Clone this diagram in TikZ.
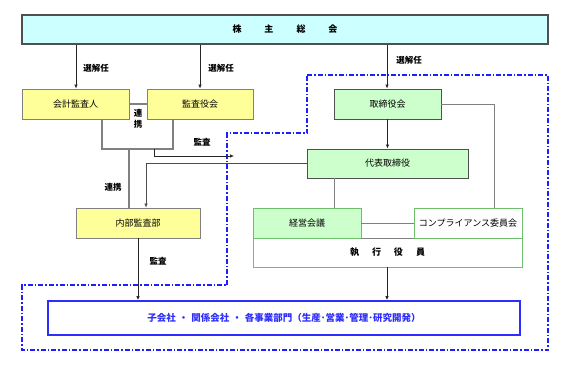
\documentclass[tikz,border=0pt]{standalone}
\usepackage{fontspec}
\setmainfont{Noto Sans CJK JP}
\usetikzlibrary{arrows.meta,positioning}
\definecolor{meetcyan}{RGB}{204,255,255}
\definecolor{audityellow}{RGB}{255,255,153}
\definecolor{boardgreen}{RGB}{204,255,204}
\definecolor{execgreen}{RGB}{110,190,110}
\definecolor{groupblue}{RGB}{45,45,255}
\definecolor{dashblue}{RGB}{30,30,255}
\definecolor{linkgray}{RGB}{128,128,128}
\definecolor{framegray}{RGB}{80,80,80}

\begin{document}
\begin{tikzpicture}[
x=1pt, y=-1pt,
font=\fontsize{9}{11}\selectfont,
box/.style={draw=framegray, line width=0.9pt, minimum height=30pt, inner xsep=2pt, align=center},
auditbox/.style={box, draw=linkgray, fill=audityellow},
boardbox/.style={box, fill=boardgreen},
execbox/.style={box, draw=execgreen, line width=0.8pt},
groupbox/.style={draw=groupblue, line width=1.6pt, minimum height=34pt, text=groupblue, font=\fontsize{9.5}{11}\selectfont\bfseries},
tag/.style={font=\fontsize{8.5}{10}\selectfont\bfseries, inner sep=1pt},
arrow/.style={-{Latex[length=4pt,width=3.5pt]}, line width=0.6pt, draw=black!85},
link/.style={line width=1.6pt, draw=linkgray},
thinlink/.style={line width=0.7pt, draw=linkgray},
zone/.style={draw=dashblue, line width=1.1pt, dash pattern=on 5pt off 2pt on 1.5pt off 2pt}
]
\useasboundingbox (0,0) rectangle (575,364);
% outline of the executive side
\draw[zone] (307,75) -- (548,75) -- (548,350) -- (22,350) -- (22,285) -- (227,285) -- (227,133) -- (307,133) -- cycle;

\node[box, fill=meetcyan, minimum width=526pt, minimum height=29pt, line width=1.2pt] (meeting) at (285,29.5)
  {\bfseries 株\hspace{23pt}主\hspace{23pt}総\hspace{23pt}会};
\node[auditbox, minimum width=107pt] (accaud) at (75.5,104) {会計監査人};
\node[auditbox, minimum width=106pt] (kansa) at (200,104) {監査役会};
\node[boardbox, minimum width=107pt] (board) at (387.5,104) {取締役会};
\node[boardbox, minimum width=161pt, minimum height=29pt] (rep) at (387.5,163.5) {代表取締役};
\node[auditbox, minimum width=124pt] (internal) at (138,223) {内部監査部};
\node[execbox, minimum width=269pt, minimum height=29pt] (exec) at (387.5,252.5)
  {\bfseries 執\hspace{13pt}行\hspace{13pt}役\hspace{13pt}員};
\node[execbox, fill=boardgreen, minimum width=108pt] (mgmt) at (307,223) {経営会議};
\node[execbox, fill=white, minimum width=108pt] (comp) at (468,223) {コンプライアンス委員会};
\node[groupbox, minimum width=472pt] (group) at (284,318)
  {子会社\hspace{3pt}・\hspace{3pt}関係会社\hspace{3pt}・\hspace{3pt}各事業部門（生産･営業･管理･研究開発）};

% appointment by the meeting
\foreach \x/\b in {76/accaud,200/kansa,387/board}
  \draw[arrow] (meeting.south -| \x,0) -- (\b.north -| \x,0);
\node[tag] (sel1) at (96,68) {選解任};
\node[tag] (sel2) at (221,68) {選解任};
\node[tag] (sel3) at (409,60) {選解任};

% audit links
\draw[link] (accaud) -- (kansa);
\node[tag, align=center, font=\fontsize{8.5}{10.5}\selectfont\bfseries] (coop1) at (138,119) {連\\携};
\coordinate (linkL) at (102,149);
\coordinate (linkR) at (173,149);
\draw[link] (accaud.south -| linkL) -- (linkL) -- (linkR) -- (kansa.south -| linkR);
\draw[link] (129,149) -- (internal.north -| 129,0);
\node[tag] (coop2) at (113,187) {連携};
\coordinate (auditend) at (234,156);
\draw[arrow] (154,149) -- (154,156) -- (auditend);
\node[tag] (audit1) at (202,142) {監査};
\draw[arrow, line width=0.5pt, draw=black!70] (rep.west) -- (146,163.5) -- (internal.north -| 146,0);

% executive side
\draw[arrow, line width=1.3pt] (board) -- (rep);
\draw[thinlink] (board.east) -- (494,104) -- (comp.north -| 494,0);
\draw[thinlink] (rep.south -| 334,0) -- (mgmt.north -| 334,0);
\draw[thinlink] (mgmt) -- (comp);
\draw[thinlink] (mgmt.south east) -- (comp.south west);

% down to the group companies
\draw[arrow, line width=0.9pt] (internal.south -| 138,0) -- (group.north -| 138,0);
\node[tag] (audit2) at (158,261) {監査};
\draw[arrow, line width=0.9pt] (exec.south -| 387,0) -- (group.north -| 387,0);
\end{tikzpicture}
\end{document}
